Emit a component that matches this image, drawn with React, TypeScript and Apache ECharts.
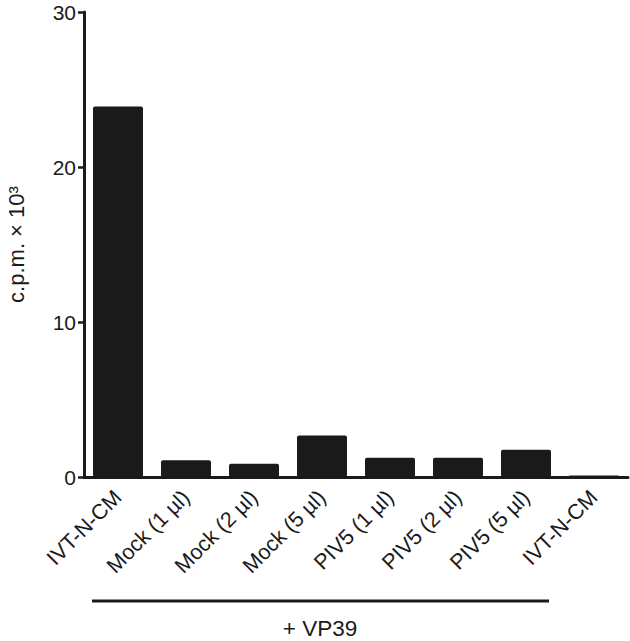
import React, { useEffect, useRef } from "react";
import * as echarts from "echarts";

const categories = [
  "IVT-N-CM",
  "Mock (1 µl)",
  "Mock (2 µl)",
  "Mock (5 µl)",
  "PIV5 (1 µl)",
  "PIV5 (2 µl)",
  "PIV5 (5 µl)",
  "IVT-N-CM",
];
const values = [23.9, 1.08, 0.86, 2.67, 1.25, 1.25, 1.76, 0.1];
const yTicks = { min: 0, max: 30, interval: 10 };
const yAxisName = "c.p.m. × 10³";
const bracketLabel = "+ VP39";

const FONT = "'Liberation Sans', Arial, Helvetica, sans-serif";
const INK = "#1a1a1a";

export default function App() {
  const ref = useRef<HTMLDivElement>(null);
  useEffect(() => {
    if (!ref.current) return;
    const chart = echarts.init(ref.current, null, { renderer: "svg" });
    chart.setOption({
      animation: false,
      backgroundColor: "#ffffff",
      grid: {
        left: 84,
        right: 2,
        top: 12,
        bottom: 164,
        containLabel: false,
        outerBoundsMode: "none",
      },
      xAxis: {
        type: "category",
        data: categories,
        axisLine: { show: true, lineStyle: { color: INK, width: 3 } },
        axisTick: { show: false },
        axisLabel: {
          rotate: 45,
          margin: 17,
          fontSize: 21.5,
          fontFamily: FONT,
          color: INK,
          interval: 0,
        },
      },
      yAxis: {
        type: "value",
        min: yTicks.min,
        max: yTicks.max,
        interval: yTicks.interval,
        name: yAxisName,
        nameLocation: "middle",
        nameRotate: 90,
        nameGap: 57,
        nameTextStyle: { fontSize: 22, fontFamily: FONT, color: INK },
        axisLine: { show: true, lineStyle: { color: INK, width: 3 } },
        axisTick: { show: true, length: 6, lineStyle: { color: INK, width: 2.5 } },
        axisLabel: { fontSize: 21, fontFamily: FONT, color: INK, margin: 8 },
        splitLine: { show: false },
      },
      series: [
        {
          type: "bar",
          data: values,
          barWidth: 50,
          itemStyle: { color: INK, borderRadius: 2 },
        },
      ],
      graphic: [
        {
          type: "line",
          shape: { x1: 92, y1: 601, x2: 549, y2: 601 },
          style: { stroke: INK, lineWidth: 3 },
        },
        {
          type: "text",
          x: 320,
          y: 628,
          style: {
            text: bracketLabel,
            fontSize: 22.5,
            fontFamily: FONT,
            fill: INK,
            textAlign: "center",
            textVerticalAlign: "middle",
          },
        },
      ],
    });
    return () => chart.dispose();
  }, []);
  return (
    <div
      ref={ref}
      style={{ position: "fixed", left: 0, top: 0, width: 630, height: 641, background: "#fff" }}
    />
  );
}
